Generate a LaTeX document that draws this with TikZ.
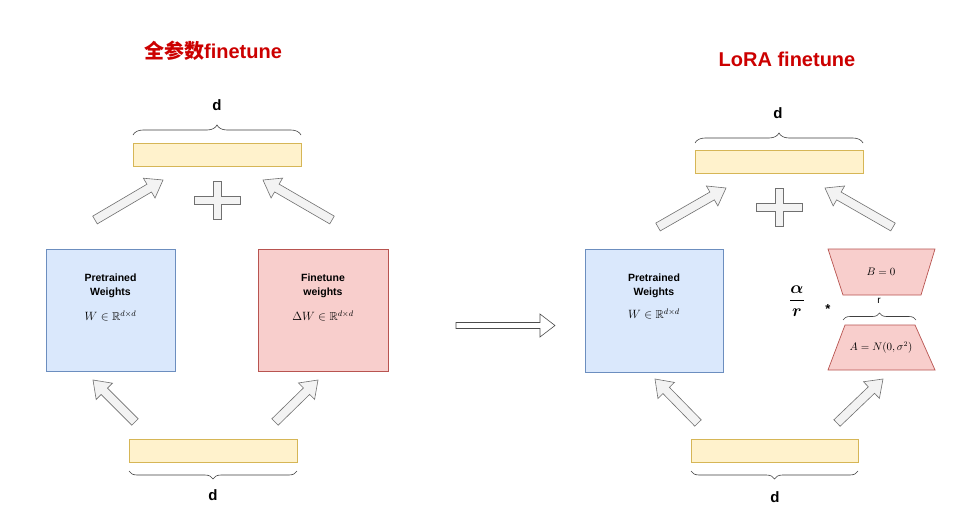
\documentclass[tikz,border=0pt]{standalone}
\usepackage{amsmath,amssymb}
\usepackage{fontspec}
\usetikzlibrary{calc,decorations.pathreplacing}
\newfontfamily\arialf{Liberation Sans}
\newfontfamily\cjkf{Noto Sans CJK SC}
\definecolor{ybg}{HTML}{FFF2CC}
\definecolor{ybd}{HTML}{D6B656}
\definecolor{bbg}{HTML}{DAE8FC}
\definecolor{bbd}{HTML}{6C8EBF}
\definecolor{rbg}{HTML}{F8CECC}
\definecolor{rbd}{HTML}{B85450}
\definecolor{abg}{HTML}{F3F3F3}
\definecolor{abd}{HTML}{707070}
\definecolor{titlered}{HTML}{CC0000}
\tikzset{
  fatarr/.style={fill=abg,draw=abd,line width=0.6pt,line join=miter},
  barbox/.style={draw=ybd,fill=ybg,line width=0.6pt,minimum width=168,minimum height=23,inner sep=0pt},
  bluebox/.style={draw=bbd,fill=bbg,line width=0.7pt,inner sep=0pt},
  redbox/.style={draw=rbd,fill=rbg,line width=0.7pt,inner sep=0pt},
  redshape/.style={draw=rbd,fill=rbg,line width=0.7pt,line join=miter},
  boxlbl/.style={font=\arialf\bfseries\fontsize{10.5}{14}\selectfont,align=center,inner sep=0pt},
  mathlbl/.style={font=\fontsize{11.5}{13}\selectfont,inner sep=0pt},
  dlbl/.style={font=\arialf\bfseries\fontsize{15}{18}\selectfont,inner sep=0pt},
  titlelbl/.style={font=\arialf\bfseries\fontsize{20}{24}\selectfont,text=titlered,inner sep=0pt},
  bracestyle/.style={draw=black!75,line width=0.6pt,decorate,decoration={brace,amplitude=#1}},
}
\newcommand\fatarrow[6][]{%
  \coordinate (fah) at ($(#3)!#6!(#2)$);
  \draw[fatarr,#1] ($(#2)!#4!90:(#3)$) -- ($(fah)!#4!90:(#3)$) -- ($(fah)!#5!90:(#3)$) -- (#3)
    -- ($(fah)!#5!-90:(#3)$) -- ($(fah)!#4!-90:(#3)$) -- ($(#2)!#4!-90:(#3)$) -- cycle;
}
\newcommand\plusmark[1]{%
  \begin{scope}[shift={#1}]
  \draw[fatarr] (-4,-19) -- (4,-19) -- (4,-4) -- (23,-4) -- (23,4) -- (4,4) -- (4,19)
    -- (-4,19) -- (-4,4) -- (-23,4) -- (-23,-4) -- (-4,-4) -- cycle;
  \end{scope}
}
\begin{document}
\begin{tikzpicture}[x=1pt,y=-1pt]
\path[use as bounding box,fill=white] (0,0) rectangle (964,509);

% ---------- titles ----------
\node[titlelbl] (t1) at (213,51) {{\cjkf 全参数}finetune};
\node[titlelbl] (t2) at (787,59) {LoRA finetune};

% ---------- left panel ----------
\node[barbox] (lt) at (217,154.5) {};
\node[barbox] (lb) at (213,450.5) {};
\node[bluebox,minimum width=129,minimum height=122] (pw1) at (110.5,310) {};
\node[redbox,minimum width=130,minimum height=122] (fw) at (323,310) {};
\node[boxlbl] (pw1t) at (110.5,286) {Pretrained\\Weights};
\node[mathlbl] (pw1m) at (110.5,316) {$W\in\mathbb{R}^{d\times d}$};
\node[boxlbl] (fwt) at (323,286) {Finetune\\weights};
\node[mathlbl] (fwm) at (323,316) {$\Delta W\in\mathbb{R}^{d\times d}$};

\coordinate (lbr1) at (133,135); \coordinate (lbr2) at (301,135);
\draw[bracestyle=10pt] (lbr1) -- (lbr2);
\node[dlbl] (ld1) at (217,105) {d};
\coordinate (lbr3) at (297,471); \coordinate (lbr4) at (129,471);
\draw[bracestyle=8pt] (lbr3) -- (lbr4);
\node[dlbl] (ld2) at (213,495) {d};

\coordinate (la1s) at (95,220);  \coordinate (la1e) at (163,180);
\coordinate (la2s) at (332,220); \coordinate (la2e) at (263,180);
\coordinate (la3s) at (135,422); \coordinate (la3e) at (93,380);
\coordinate (la4s) at (275,422); \coordinate (la4e) at (318,380);
\fatarrow{la1s}{la1e}{4.5pt}{11.5pt}{16pt}
\fatarrow{la2s}{la2e}{4.5pt}{11.5pt}{16pt}
\fatarrow{la3s}{la3e}{4.5pt}{11.5pt}{16pt}
\fatarrow{la4s}{la4e}{4.5pt}{11.5pt}{16pt}
\plusmark{(217,200)}

% ---------- center arrow ----------
\coordinate (ca1) at (456,325.5); \coordinate (ca2) at (555,325.5);
\fatarrow[fill=white,draw=black!70]{ca1}{ca2}{3pt}{11.5pt}{15pt}

% ---------- right panel ----------
\node[barbox] (rt) at (779,162) {};
\node[barbox,minimum width=167] (rb) at (774.5,450.5) {};
\node[bluebox,minimum width=138,minimum height=123] (pw2) at (654,310.5) {};
\node[boxlbl] (pw2t) at (654,286) {Pretrained\\Weights};
\node[mathlbl] (pw2m) at (654,314) {$W\in\mathbb{R}^{d\times d}$};

\coordinate (rbr1) at (695,143); \coordinate (rbr2) at (863,143);
\draw[bracestyle=10pt] (rbr1) -- (rbr2);
\node[dlbl] (rd1) at (778,113) {d};
\coordinate (rbr3) at (858,471); \coordinate (rbr4) at (691,471);
\draw[bracestyle=8pt] (rbr3) -- (rbr4);
\node[dlbl] (rd2) at (775,497) {d};

\coordinate (ra1s) at (658,227); \coordinate (ra1e) at (726,188);
\coordinate (ra2s) at (893,227); \coordinate (ra2e) at (825,188);
\coordinate (ra3s) at (698,423); \coordinate (ra3e) at (655,379);
\coordinate (ra4s) at (837,423); \coordinate (ra4e) at (883,379);
\fatarrow{ra1s}{ra1e}{4.5pt}{11.5pt}{16pt}
\fatarrow{ra2s}{ra2e}{4.5pt}{11.5pt}{16pt}
\fatarrow{ra3s}{ra3e}{4.5pt}{11.5pt}{16pt}
\fatarrow{ra4s}{ra4e}{4.5pt}{11.5pt}{16pt}
\plusmark{(779,207)}

% LoRA matrices
\draw[redshape] (828,249) -- (935,249) -- (921,295) -- (843,295) -- cycle;
\draw[redshape] (845,325) -- (915,325) -- (935,370) -- (828,370) -- cycle;
\node[mathlbl,font=\fontsize{10.5}{12}\selectfont] (bm) at (881,272) {$B=0$};
\node[mathlbl,font=\fontsize{10.5}{12}\selectfont] (am) at (881,348) {$A=N(0,\sigma^2)$};
\coordinate (rr1) at (843,320); \coordinate (rr2) at (916,320);
\draw[bracestyle=7pt] (rr1) -- (rr2);
\node[font=\arialf\fontsize{10}{11}\selectfont,inner sep=0pt] (rl) at (879,301) {r};
\node[font=\fontsize{16}{18}\selectfont,inner sep=0pt] (frac) at (797,301) {$\dfrac{\boldsymbol{\alpha}}{\boldsymbol{r}}$};
\node[font=\arialf\bfseries\fontsize{13}{14}\selectfont,inner sep=0pt] (star) at (828,309) {*};
\end{tikzpicture}
\end{document}
